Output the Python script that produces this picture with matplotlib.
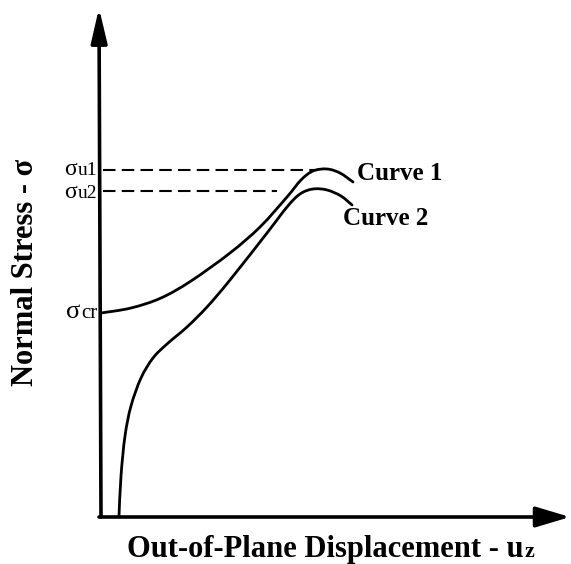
import matplotlib
matplotlib.use("Agg")
import matplotlib.pyplot as plt
from matplotlib.path import Path
from matplotlib.patches import PathPatch

# ---- data (arbitrary units) ----
curve1_x = [0.0, 3.0, 6.0, 9.0, 12.9, 15.9, 18.6, 20.0, 21.2, 22.6, 23.9, 25.2]
curve1_y = [20.3, 20.8, 21.8, 23.5, 26.3, 28.9, 31.9, 33.6, 34.5, 34.7, 34.3, 33.4]

curve2_x = [1.8, 2.0, 2.4, 3.0, 4.0, 5.2, 6.6, 8.6, 10.6, 12.9, 16.6, 18.6, 19.9, 21.2, 22.6, 24.0, 25.1]
curve2_y = [0.0, 4.0, 8.0, 11.0, 13.8, 15.8, 17.2, 18.9, 20.9, 23.6, 28.3, 30.9, 32.2, 32.7, 32.6, 32.0, 31.1]

sigma_u1 = 34.6
sigma_u2 = 32.5
sigma_cr = 20.3
dash1_end = 21.6
dash2_end = 17.6

x_axis_end = 46.9
y_axis_end = 50.8

sigma_subs = ["u1", "u2", "cr"]
curve_labels = ["Curve 1", "Curve 2"]
xlabel_main, xlabel_sub = "Out-of-Plane Displacement - u", "z"
ylabel = "Normal Stress - σ"

SERIF = ["Liberation Serif", "DejaVu Serif"]

fig = plt.figure(figsize=(5.71, 5.64), dpi=100)
ax = fig.add_axes([0, 0, 1, 1])
ax.set_xlim(-10.1, 47.0)
ax.set_ylim(-4.8, 51.6)
ax.axis("off")


def smooth_path(xs, ys):
    """Cubic Bezier path through the points (Catmull-Rom tangents)."""
    pts = list(zip(xs, ys))
    n = len(pts)
    verts = [pts[0]]
    codes = [Path.MOVETO]
    for i in range(n - 1):
        p0 = pts[i - 1] if i > 0 else pts[i]
        p1 = pts[i]
        p2 = pts[i + 1]
        p3 = pts[i + 2] if i + 2 < n else pts[i + 1]
        c1 = (p1[0] + (p2[0] - p0[0]) / 6.0, p1[1] + (p2[1] - p0[1]) / 6.0)
        c2 = (p2[0] - (p3[0] - p1[0]) / 6.0, p2[1] - (p3[1] - p1[1]) / 6.0)
        verts += [c1, c2, p2]
        codes += [Path.CURVE4] * 3
    return Path(verts, codes)


# axes with arrows
ax.annotate("", xy=(-0.2, y_axis_end), xytext=(0, -0.1),
            arrowprops=dict(arrowstyle="-|>,head_length=1.5,head_width=0.35",
                            mutation_scale=14, lw=2.6, color="black",
                            shrinkA=0, shrinkB=0))
ax.annotate("", xy=(x_axis_end, -0.1), xytext=(-0.2, -0.1),
            arrowprops=dict(arrowstyle="-|>,head_length=1.5,head_width=0.45",
                            mutation_scale=14, lw=2.6, color="black",
                            shrinkA=0, shrinkB=0))

# curves
for cx, cy in [(curve1_x, curve1_y), (curve2_x, curve2_y)]:
    ax.add_patch(PathPatch(smooth_path(cx, cy), fill=False, edgecolor="black",
                           lw=2.0, capstyle="round", joinstyle="round"))

# dashed reference lines
ax.plot([0.2, dash1_end], [sigma_u1, sigma_u1], color="black", lw=1.5, dashes=(6, 3))
ax.plot([0.2, dash2_end], [sigma_u2, sigma_u2], color="black", lw=1.5, dashes=(6, 3))

# sigma labels (subscript right-aligned next to the axis, sigma to its left)
fig.canvas.draw()
inv = ax.transData.inverted()
for yv, sub, size, ssize in [(34.1, sigma_subs[0], 14, 17), (31.8, sigma_subs[1], 14, 17),
                             (19.8, sigma_subs[2], 15, 19)]:
    st = ax.text(-0.4, yv, sub, fontsize=size, family=SERIF, ha="right", va="baseline")
    sbb = st.get_window_extent(renderer=fig.canvas.get_renderer()).transformed(inv)
    ax.text(sbb.x0 - 0.05, yv, "σ", fontsize=ssize, family=SERIF, ha="right", va="baseline")

# curve labels
ax.text(25.6, 33.6, curve_labels[0], fontsize=18, family=SERIF, weight="bold", ha="left", va="baseline")
ax.text(24.2, 29.1, curve_labels[1], fontsize=18, family=SERIF, weight="bold", ha="left", va="baseline")

# axis labels
t = ax.text(2.6, -4.1, xlabel_main, fontsize=22, family=SERIF, weight="bold", ha="left", va="baseline")
fig.canvas.draw()
bb = t.get_window_extent(renderer=fig.canvas.get_renderer()).transformed(inv)
ax.text(bb.x1 + 0.1, -4.1, xlabel_sub, fontsize=16, family=SERIF, weight="bold", ha="left", va="baseline")

ax.text(-7.5, 24.4, ylabel, fontsize=22, family=SERIF, weight="bold", rotation=90,
        ha="center", va="center")

fig.savefig("out.png", dpi=100, facecolor="white")
